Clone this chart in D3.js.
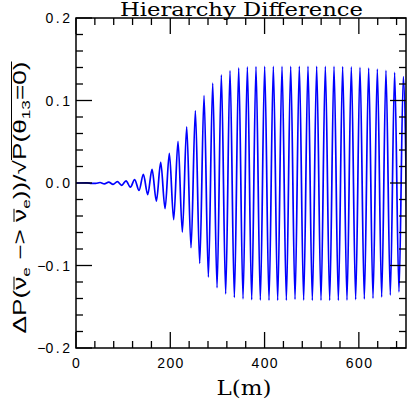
<!DOCTYPE html>
<html><head><meta charset="utf-8">
<script src="https://cdn.jsdelivr.net/npm/d3@7"></script>
<style>body{margin:0;background:#fff}svg{display:block}</style>
</head><body><svg id="c" width="407" height="402"></svg>
<script>
// ---- data (L in metres) ----
const startL = [0, 23.4, 32.6];
const startV = [0, 0.0002, -0.0004];
const topL = [51.0, 69.4, 87.7, 106.1, 124.5, 142.9, 161.3, 179.7, 198.0, 216.4, 234.8, 253.2, 271.6, 290.0, 308.3, 326.7, 345.1, 363.5, 381.8, 400.2, 418.6, 437.0, 455.4, 473.7, 492.1, 510.5, 528.9, 547.3, 565.6, 584.0, 602.4, 620.8, 639.2, 657.5, 675.9, 694.3];
const topV = [0.0006, 0.001, 0.0016, 0.0026, 0.0042, 0.0105, 0.0165, 0.025, 0.036, 0.0505, 0.068, 0.0875, 0.106, 0.121, 0.131, 0.1362, 0.1395, 0.1408, 0.1412, 0.1413, 0.1414, 0.1414, 0.1414, 0.1415, 0.1415, 0.1415, 0.1414, 0.1413, 0.1412, 0.1408, 0.1402, 0.1394, 0.1382, 0.1365, 0.134, 0.129];
const botL = [41.8, 60.2, 78.6, 96.9, 115.3, 133.7, 152.1, 170.5, 188.9, 207.2, 225.6, 244.0, 262.4, 280.8, 299.2, 317.5, 335.9, 354.3, 372.7, 391.0, 409.4, 427.8, 446.2, 464.6, 482.9, 501.3, 519.7, 538.1, 556.5, 574.8, 593.2, 611.6, 630.0, 648.4, 666.7, 685.1, 703.5];
const botV = [-0.0005, -0.001, -0.0016, -0.0028, -0.005, -0.009, -0.014, -0.022, -0.031, -0.0445, -0.0595, -0.0785, -0.0975, -0.114, -0.127, -0.1345, -0.1388, -0.1405, -0.1415, -0.142, -0.1422, -0.1422, -0.1422, -0.141, -0.142, -0.1422, -0.1422, -0.1422, -0.1422, -0.142, -0.1414, -0.1406, -0.1398, -0.1382, -0.136, -0.132, -0.125];
const xMajor = [0, 200, 400, 600];
const xMinor = [40, 80, 120, 160, 240, 280, 320, 360, 440, 480, 520, 560, 640, 680];
const yMajor = [-0.2, -0.1, 0.0, 0.1, 0.2];
const yMinorStep = 0.02;
const xLabels = ["0", "200", "400", "600"];
const yLabels = ["\u22120.2", "\u22120.1", "0.0", "0.1", "0.2"];
const titleText = "Hierarchy Difference";
const xTitle = "L(m)";

// ---- layout ----
const X0 = 76, X1 = 406, Y0 = 18, Y1 = 348;
const svg = d3.select("#c");
const x = d3.scaleLinear().domain([0, 700]).range([X0, X1]);
const y = d3.scaleLinear().domain([-0.2, 0.2]).range([Y1, Y0]);

let pts = [];
startL.forEach((l, i) => pts.push([l, startV[i]]));
topL.forEach((l, i) => pts.push([l, topV[i]]));
botL.forEach((l, i) => pts.push([l, botV[i]]));
pts.sort((a, b) => a[0] - b[0]);

svg.append("defs").append("clipPath").attr("id", "clip")
  .append("rect").attr("x", X0).attr("y", Y0).attr("width", X1 - X0).attr("height", Y1 - Y0);

const line = d3.line().x(d => x(d[0])).y(d => y(d[1])).curve(d3.curveMonotoneX);
svg.append("path").datum(pts).attr("clip-path", "url(#clip)")
  .attr("d", line).attr("fill", "none").attr("stroke", "#0000ff").attr("stroke-width", 1.7);

svg.append("rect").attr("x", X0).attr("y", Y0).attr("width", X1 - X0).attr("height", Y1 - Y0)
  .attr("fill", "none").attr("stroke", "#000").attr("stroke-width", 1.5);

const MAJ = 16, MIN = 7;
const tg = svg.append("g").attr("stroke", "#000").attr("stroke-width", 1.3);
function xt(v, len) {
  tg.append("line").attr("x1", x(v)).attr("x2", x(v)).attr("y1", Y1).attr("y2", Y1 - len);
  tg.append("line").attr("x1", x(v)).attr("x2", x(v)).attr("y1", Y0).attr("y2", Y0 + len);
}
function yt(v, len) {
  tg.append("line").attr("y1", y(v)).attr("y2", y(v)).attr("x1", X0).attr("x2", X0 + len);
  tg.append("line").attr("y1", y(v)).attr("y2", y(v)).attr("x1", X1).attr("x2", X1 - len);
}
xMajor.forEach(v => xt(v, MAJ));
xMinor.forEach(v => xt(v, MIN));
yMajor.forEach(v => yt(v, MAJ));
d3.range(-0.2 + yMinorStep, 0.2, yMinorStep).forEach(v => {
  if (Math.abs(v * 10 - Math.round(v * 10)) > 1e-6) yt(v, MIN);
});

// tick labels
const FONT = "Liberation Sans, Arial, sans-serif";
svg.append("g").selectAll("text").data(xMajor).join("text")
  .attr("x", d => x(d) + 0.7).attr("y", 368).attr("text-anchor", "middle")
  .attr("font-family", FONT).attr("font-size", 14)
  .attr("letter-spacing", 1.4).text((d, i) => xLabels[i]);
const yl = svg.append("g").selectAll("text").data(yMajor).join("text")
  .attr("x", 70).attr("y", d => y(d) + 5).attr("text-anchor", "end")
  .attr("font-family", FONT).attr("font-size", 14);
yl.each(function (d, i) {
  const s = yLabels[i];
  const k = s.indexOf(".");
  const t = d3.select(this);
  t.append("tspan").text(s.slice(0, k));
  t.append("tspan").attr("dx", 2.5).text(".");
  t.append("tspan").attr("dx", 2.5).text(s.slice(k + 1));
});

// title
svg.append("text").attr("x", 241.5).attr("y", 16).attr("text-anchor", "middle")
  .attr("font-family", "DejaVu Serif, serif").attr("font-size", 18)
  .attr("textLength", 243).attr("lengthAdjust", "spacingAndGlyphs").text(titleText);

// x title
svg.append("text").attr("x", 244).attr("y", 395).attr("text-anchor", "middle")
  .attr("font-family", "DejaVu Serif, serif").attr("font-size", 20)
  .attr("textLength", 55).attr("lengthAdjust", "spacingAndGlyphs").text(xTitle);

// y title
const yg = svg.append("g").attr("transform", "translate(25.5,197.5) rotate(-90)");
const yt2 = yg.append("text").attr("text-anchor", "middle")
  .attr("font-family", FONT).attr("font-size", 17.5)
  .attr("textLength", 272).attr("lengthAdjust", "spacingAndGlyphs");
const parts = [
  ["\u0394P(", 0], ["\u03bd", 0], ["e", 1], [" \u2212> ", -1], ["\u03bd", 0], ["e", 1],
  ["))/", -1], ["\u221a", 0], ["P(\u03b8", 0], ["13", 1], ["=0)", -1]
];
parts.forEach(([t, s]) => {
  const ts = yt2.append("tspan").text(t);
  if (s === 1) ts.attr("font-size", 11.5).attr("dy", 4);
  if (s === -1) ts.attr("dy", -4);
});
const node = yt2.node();
function ol(i0, i1, yy) {
  const a = node.getStartPositionOfChar(i0).x, b = node.getEndPositionOfChar(i1).x;
  yg.append("line").attr("x1", a).attr("x2", b).attr("y1", yy).attr("y2", yy)
    .attr("stroke", "#000").attr("stroke-width", 1);
}
ol(3, 3, -11.5);
ol(9, 9, -11.5);
ol(15, 22, -14);
</script></body></html>
